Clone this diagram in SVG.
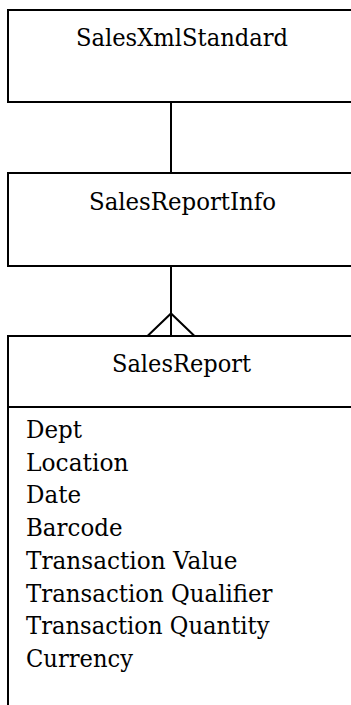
<svg xmlns="http://www.w3.org/2000/svg" width="351" height="705" viewBox="0 0 351 705">
<style>
.box{fill:#fff;stroke:#000;stroke-width:2}
.ln{fill:none;stroke:#000;stroke-width:2}
text{font-family:'DejaVu Serif',serif;font-size:25px;fill:#000}
.c{text-anchor:middle}
</style>
<rect width="351" height="705" fill="#fff"/>
<g id="connectors">
<line class="ln" x1="171" y1="102" x2="171" y2="173"/>
<line class="ln" x1="171" y1="266" x2="171" y2="336"/>
<polyline class="ln" points="147.5,336 171,313.5 194.5,336"/>
</g>
<g id="SalesXmlStandard">
<rect class="box" x="8" y="10" width="360" height="92"/>
<text class="c" x="182" y="46" textLength="212" lengthAdjust="spacingAndGlyphs">SalesXmlStandard</text>
</g>
<g id="SalesReportInfo">
<rect class="box" x="8" y="173" width="360" height="93"/>
<text class="c" x="182.5" y="210" textLength="187" lengthAdjust="spacingAndGlyphs">SalesReportInfo</text>
</g>
<g id="SalesReport">
<rect class="box" x="8" y="336" width="360" height="400"/>
<line class="ln" x1="8" y1="407" x2="368" y2="407"/>
<text class="c" x="181.5" y="372" textLength="139" lengthAdjust="spacingAndGlyphs">SalesReport</text>
<text x="26" y="438" textLength="56" lengthAdjust="spacingAndGlyphs">Dept</text>
<text x="26" y="470.7" textLength="102.5" lengthAdjust="spacingAndGlyphs">Location</text>
<text x="26" y="503.4" textLength="55" lengthAdjust="spacingAndGlyphs">Date</text>
<text x="26" y="536.1" textLength="96.5" lengthAdjust="spacingAndGlyphs">Barcode</text>
<text x="26" y="568.8" textLength="211.5" lengthAdjust="spacingAndGlyphs">Transaction Value</text>
<text x="26" y="601.5" textLength="246.5" lengthAdjust="spacingAndGlyphs">Transaction Qualifier</text>
<text x="26" y="634.2" textLength="243.5" lengthAdjust="spacingAndGlyphs">Transaction Quantity</text>
<text x="26" y="666.9" textLength="107" lengthAdjust="spacingAndGlyphs">Currency</text>
</g>
</svg>
